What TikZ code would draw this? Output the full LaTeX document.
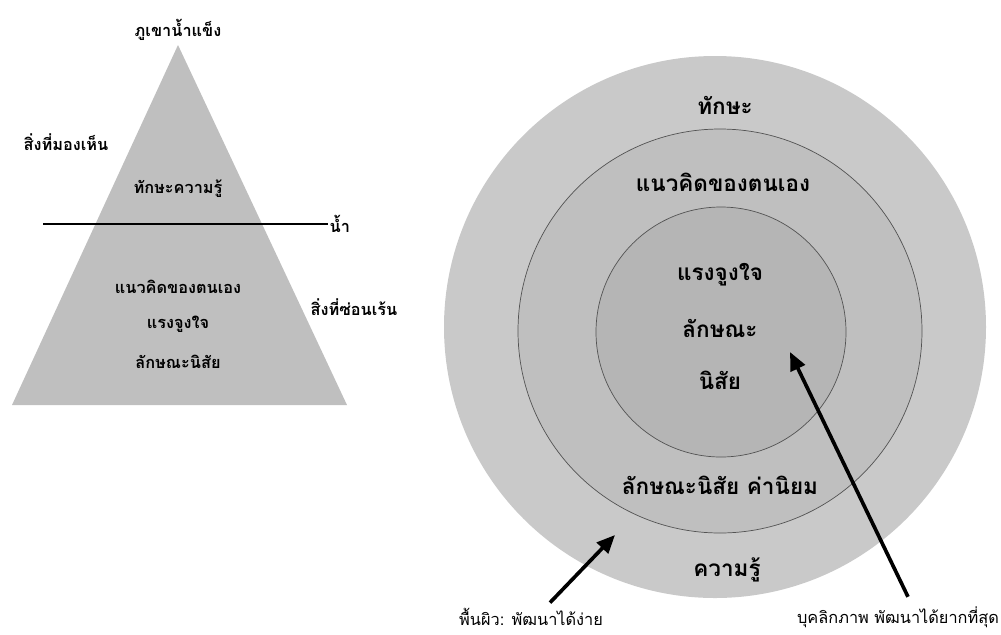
\documentclass[tikz,border=0pt]{standalone}
\usepackage{fontspec}
\setmainfont[Script=Thai]{Loma}
\usetikzlibrary{positioning, calc, arrows.meta}

\begin{document}
\begin{tikzpicture}[x=0.025cm, y=-0.025cm,
  every node/.style={font=\bfseries\fontsize{11.6}{14}\selectfont},
  big/.style={font=\bfseries\fontsize{16}{19}\selectfont},
  note/.style={font=\fontsize{11.6}{14}\selectfont, inner sep=1pt},
  ring/.style={draw=gray!65!black, line width=0.5pt},
  pointer/.style={line width=2.6pt, -{Triangle[length=13pt, width=11pt]}}]
\useasboundingbox (0,0) rectangle (1001,634);
% iceberg
\fill[gray!50] (178,45) -- (347,405) -- (12,405) -- cycle;
\coordinate (waterL) at (43,224);
\node[anchor=west, inner sep=1pt] (water) at (328,224) {น้ำ};
\draw[line width=1.6pt] (waterL) -- (water.west);
\node (peak) at (178,30) {ภูเขาน้ำแข็ง};
\node (seen) at (66,142) {สิ่งที่มองเห็น};
\node (skill) at (178,189) {ทักษะความรู้};
\node (hidden) at (354,307) {สิ่งที่ซ่อนเร้น};
\node (self) at (178,287) {แนวคิดของตนเอง};
\node (motive) at (178,324) {แรงจูงใจ};
\node (trait) at (178,362) {ลักษณะนิสัย};
% rings
\fill[gray!42] (715,327) circle[radius=271];
\filldraw[ring, fill=gray!50] (720,331) circle[radius=202];
\filldraw[ring, fill=gray!58] (721,332) circle[radius=125];
\node[big] (rskill) at (725,105) {ทักษะ};
\node[big] (rself) at (723,182) {แนวคิดของตนเอง};
\node[big] (rmotive) at (720,275) {แรงจูงใจ};
\node[big] (rtrait) at (720,328) {ลักษณะ};
\node[big] (rhabit) at (720,380) {นิสัย};
\node[big] (rvalue) at (720,485) {ลักษณะนิสัย ค่านิยม};
\node[big] (rknow) at (727,570) {ความรู้};
% pointers
\coordinate (deep) at (790,352);
\coordinate (surf) at (615,535);
\node[note] (hard) at (898,617) {บุคลิกภาพ พัฒนาได้ยากที่สุด};
\node[note] (easy) at (531,617) {พื้นผิว: พัฒนาได้ง่าย};
\draw[pointer] ($(hard.north)+(10,-8)$) -- (deep);
\draw[pointer] ($(easy.north)+(19,-4)$) -- (surf);
\end{tikzpicture}
\end{document}
